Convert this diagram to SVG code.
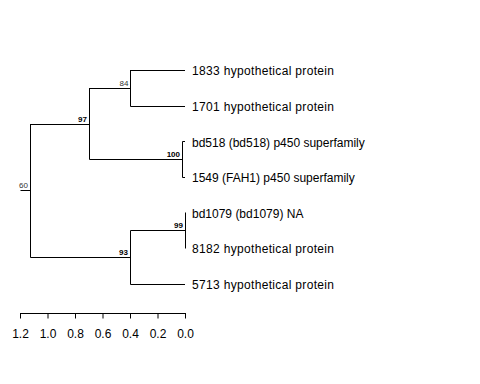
<svg xmlns="http://www.w3.org/2000/svg" width="480" height="384" viewBox="0 0 480 384">
<style>
.e{stroke:#000;stroke-width:1;fill:none}
.leaf{font-family:"Liberation Sans",Arial,sans-serif;font-size:12px;fill:#000}
.bs{font-family:"Liberation Sans",Arial,sans-serif;font-size:8px;text-anchor:end}
.b{font-weight:bold;fill:#000}
.r{fill:#333}
.ax{font-family:"Liberation Sans",Arial,sans-serif;font-size:12px;text-anchor:middle;fill:#000}
</style>
<rect width="480" height="384" fill="#fff"/>
<g id="connectors">
<path class="e" d="M20.5,190.5H30.5M30.5,124V257.5"/>
<path class="e" d="M30.5,124.5H89.5M89.5,88V159.5"/>
<path class="e" d="M89.5,88.5H130.5M130.5,70V106.5"/>
<path class="e" d="M130.5,70.5H185M130.5,106.5H185"/>
<path class="e" d="M89.5,159.5H182.5M182.5,141.5V177.5M182.5,141.5H185M182.5,177.5H185"/>
<path class="e" d="M30.5,257.5H130.5M130.5,230.5V284.5"/>
<path class="e" d="M130.5,230.5H185.5M185.5,212.5V248.5"/>
<path class="e" d="M130.5,284.5H185"/>
</g>
<g id="n60"><text class="bs r" x="28" y="188">60</text></g>
<g id="n97"><text class="bs b" x="87" y="122">97</text></g>
<g id="n84"><text class="bs r" x="128.5" y="86">84</text></g>
<g id="n100"><text class="bs b" x="180" y="157">100</text></g>
<g id="n93"><text class="bs b" x="128" y="255">93</text></g>
<g id="n99"><text class="bs b" x="183" y="228">99</text></g>
<g id="leaf1833"><text class="leaf" x="192" y="75" textLength="142" lengthAdjust="spacing">1833 hypothetical protein</text></g>
<g id="leaf1701"><text class="leaf" x="192" y="111" textLength="142" lengthAdjust="spacing">1701 hypothetical protein</text></g>
<g id="leafbd518"><text class="leaf" x="192" y="146.5">bd518 (bd518) p450 superfamily</text></g>
<g id="leaf1549"><text class="leaf" x="192" y="182">1549 (FAH1) p450 superfamily</text></g>
<g id="leafbd1079"><text class="leaf" x="192" y="217.5">bd1079 (bd1079) NA</text></g>
<g id="leaf8182"><text class="leaf" x="192" y="253" textLength="142" lengthAdjust="spacing">8182 hypothetical protein</text></g>
<g id="leaf5713"><text class="leaf" x="192" y="289" textLength="142" lengthAdjust="spacing">5713 hypothetical protein</text></g>
<g id="axis">
<path class="e" d="M20.5,313.5H185.5M20.5,313V318.5M48,313V318.5M75.5,313V318.5M103,313V318.5M130.5,313V318.5M158,313V318.5M185.5,313V318.5"/>
<text class="ax" x="20.5" y="338">1.2</text>
<text class="ax" x="48" y="338">1.0</text>
<text class="ax" x="75.5" y="338">0.8</text>
<text class="ax" x="103" y="338">0.6</text>
<text class="ax" x="130.5" y="338">0.4</text>
<text class="ax" x="158" y="338">0.2</text>
<text class="ax" x="185.5" y="338">0.0</text>
</g>
</svg>
